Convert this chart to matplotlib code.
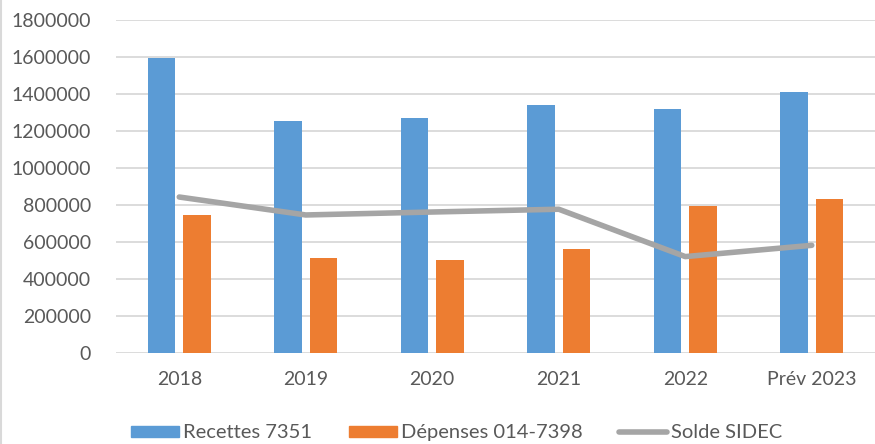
import matplotlib.pyplot as plt
import numpy as np
from matplotlib.lines import Line2D

plt.rcParams['font.family'] = ['Lato', 'DejaVu Sans']

# data
categories = ["2018", "2019", "2020", "2021", "2022", "Prév 2023"]
recettes = [1592000, 1255000, 1268000, 1340000, 1320000, 1410000]
depenses = [747000, 513000, 505000, 563000, 792000, 832000]
solde = [843000, 746000, 762000, 777000, 521000, 582000]
yticks = [0, 200000, 400000, 600000, 800000, 1000000, 1200000, 1400000, 1600000, 1800000]

blue = '#5B9BD5'
orange = '#ED7D31'
grey = '#A5A5A5'
txt = '#595959'

fig = plt.figure(figsize=(8.75, 4.44), dpi=100)
ax = fig.add_axes([0.1326, 0.205, 0.8674, 0.75])

x = np.arange(len(categories))
w = 0.22
ax.bar(x - 0.14, recettes, width=w, color=blue, label='Recettes 7351', zorder=2)
ax.bar(x + 0.14, depenses, width=w, color=orange, label='Dépenses 014-7398', zorder=2)
ax.plot(x, solde, color=grey, linewidth=4, solid_capstyle='round', label='Solde SIDEC', zorder=3)

ax.set_xlim(-0.5, len(categories) - 0.5)
ax.set_ylim(0, 1800000)
ax.set_yticks(yticks)
ax.set_yticklabels([str(v) for v in yticks])
ax.set_xticks(x)
ax.set_xticklabels(categories)
ax.tick_params(axis='both', length=0, labelsize=14, colors=txt)
ax.tick_params(axis='y', pad=18)
ax.tick_params(axis='x', pad=13)
ax.grid(axis='y', color='#D9D9D9', linewidth=1.3, zorder=0)
ax.set_axisbelow(True)
for s in ax.spines.values():
    s.set_visible(False)

handles = [plt.Rectangle((0, 0), 1, 1, color=blue),
           plt.Rectangle((0, 0), 1, 1, color=orange),
           Line2D([0], [0], color=grey, linewidth=4, solid_capstyle='round')]
fig.legend(handles, ['Recettes 7351', 'Dépenses 014-7398', 'Solde SIDEC'],
           loc='center', bbox_to_anchor=(0.522, 0.025), ncol=3, frameon=False,
           fontsize=14.5, labelcolor=txt, handlelength=2.4, handleheight=0.5,
           handletextpad=0.2, columnspacing=1.8)

fig.add_artist(Line2D([0.001, 0.001], [0, 1], transform=fig.transFigure, color='#D9D9D9', linewidth=1.5))

plt.savefig('out.png', dpi=100)
